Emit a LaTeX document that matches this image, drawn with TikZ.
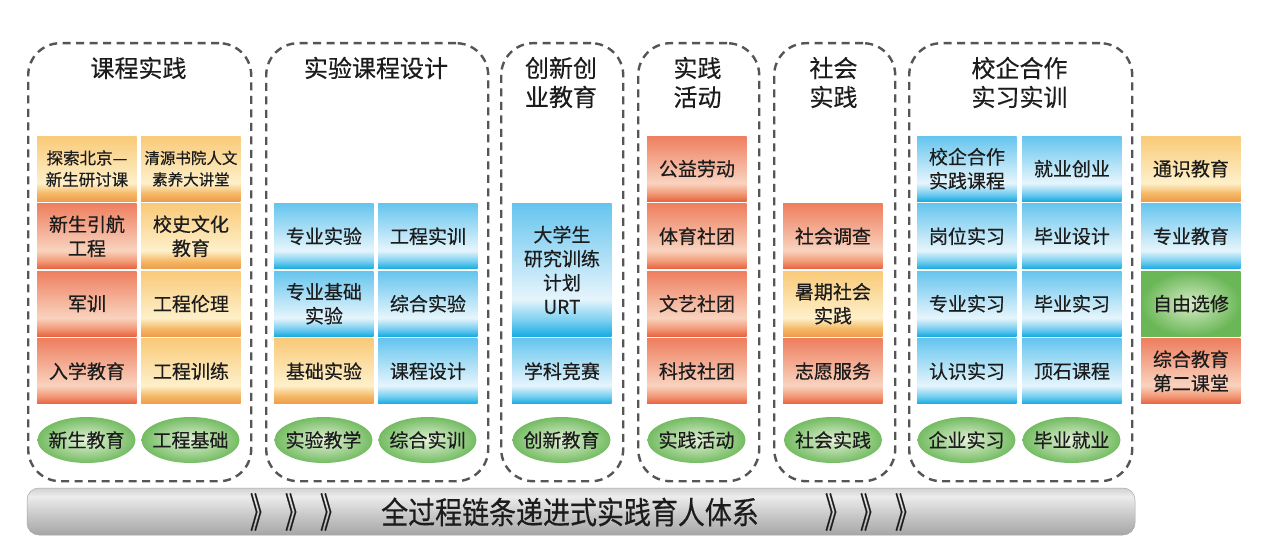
\documentclass[tikz,border=0pt]{standalone}
\usepackage{fontspec}
\setmainfont[FakeBold=0.45]{Noto Sans CJK SC}
\usetikzlibrary{shapes.geometric}
\definecolor{txt}{HTML}{1C1C1C}
\definecolor{framegray}{HTML}{555555}
\definecolor{otop}{HTML}{F9CA79}
\definecolor{olight}{HTML}{FEF0CA}
\definecolor{omid}{HTML}{F5B966}
\definecolor{obot}{HTML}{EE9C4C}
\definecolor{rtop}{HTML}{EE7F5F}
\definecolor{rlight}{HTML}{F9D3BF}
\definecolor{rmid}{HTML}{F29A78}
\definecolor{rbot}{HTML}{E8633F}
\definecolor{btop}{HTML}{66C5EE}
\definecolor{blight}{HTML}{E6F5FC}
\definecolor{bmid}{HTML}{7ACFF0}
\definecolor{bbot}{HTML}{17ACE2}
\definecolor{ginner}{HTML}{E4F1D9}
\definecolor{gouter}{HTML}{74BC62}
\definecolor{gbinner}{HTML}{D6EBC6}
\definecolor{gbouter}{HTML}{6AB757}
\definecolor{bartop}{HTML}{D2D2D2}
\definecolor{barhi}{HTML}{ECECEC}
\definecolor{barmid}{HTML}{C6C6C6}
\definecolor{barbot}{HTML}{A6A6A6}
\pgfdeclareverticalshading{oshade}{100bp}{color(0bp)=(obot); color(25bp)=(obot); color(31bp)=(omid); color(39bp)=(olight); color(75bp)=(otop); color(100bp)=(otop)}
\pgfdeclareverticalshading{rshade}{100bp}{color(0bp)=(rbot); color(25bp)=(rbot); color(31bp)=(rmid); color(39bp)=(rlight); color(75bp)=(rtop); color(100bp)=(rtop)}
\pgfdeclareverticalshading{bshade}{100bp}{color(0bp)=(bbot); color(25bp)=(bbot); color(31bp)=(bmid); color(39bp)=(blight); color(75bp)=(btop); color(100bp)=(btop)}
\pgfdeclareverticalshading{barshade}{100bp}{color(0bp)=(barbot); color(25bp)=(barbot); color(45bp)=(barmid); color(66bp)=(barhi); color(75bp)=(bartop); color(100bp)=(bartop)}
\begin{document}
\begin{tikzpicture}[x=1pt,y=-1pt,
  frame/.style={draw=framegray, line width=2.4pt, dash pattern=on 8pt off 5.5pt, rounded corners=32pt, anchor=north west, inner sep=0pt},
  cell/.style={anchor=north west, minimum width=99.5pt, minimum height=65pt, inner sep=1pt, align=center, text=txt, font=\fontsize{19}{24}\selectfont},
  ocell/.style={cell, shade, shading=oshade},
  rcell/.style={cell, shade, shading=rshade},
  bcell/.style={cell, shade, shading=bshade},
  gcell/.style={cell, shade, shading=radial, inner color=gbinner, outer color=gbouter},
  oval/.style={ellipse, minimum width=98pt, minimum height=46pt, inner xsep=-4pt, inner ysep=0pt, shade, shading=radial, inner color=ginner, outer color=gouter, text=txt, font=\fontsize{19}{24}\selectfont},
  title/.style={align=center, text=txt, font=\fontsize{24}{29}\selectfont},
  chev/.style={text=txt, font=\fontsize{27}{27}\selectfont, inner sep=0pt},
  bartext/.style={text=txt, font=\fontsize{31}{32}\selectfont, inner sep=0pt}
]
\useasboundingbox[fill=white] (0,0) rectangle (1266,551);

% frames
\node[frame, minimum width=223pt, minimum height=438pt] (f1) at (27,42) {};
\node[frame, minimum width=222pt, minimum height=438pt] (f2) at (265,42) {};
\node[frame, minimum width=122pt, minimum height=438pt] (f3) at (500,42) {};
\node[frame, minimum width=121pt, minimum height=438pt] (f4) at (637,42) {};
\node[frame, minimum width=121pt, minimum height=438pt] (f5) at (773,42) {};
\node[frame, minimum width=223pt, minimum height=438pt] (f6) at (908,42) {};

% titles
\node[title] (t1) at (138.5,68) {课程实践};
\node[title] (t2) at (376,68) {实验课程设计};
\node[title] (t3) at (561,82.5) {创新创\\业教育};
\node[title] (t4) at (697.5,82.5) {实践\\活动};
\node[title] (t5) at (833.5,82.5) {社会\\实践};
\node[title] (t6) at (1019.5,82.5) {校企合作\\实习实训};

% column 1
\node[ocell, font=\fontsize{16.5}{21.5}\selectfont] (a1) at (37,136) {探索北京—\\新生研讨课};
\node[rcell] (a2) at (37,203.5) {新生引航\\工程};
\node[rcell] (a3) at (37,271) {军训};
\node[rcell] (a4) at (37,338.5) {入学教育};
\node[ocell, font=\fontsize{15.5}{21.5}\selectfont] (b1) at (141,136) {清源书院人文\\素养大讲堂};
\node[ocell] (b2) at (141,203.5) {校史文化\\教育};
\node[ocell] (b3) at (141,271) {工程伦理};
\node[ocell] (b4) at (141,338.5) {工程训练};

% column 2
\node[bcell] (c2) at (274,203.5) {专业实验};
\node[bcell] (c3) at (274,271) {专业基础\\实验};
\node[ocell] (c4) at (274,338.5) {基础实验};
\node[bcell] (d2) at (378,203.5) {工程实训};
\node[bcell] (d3) at (378,271) {综合实验};
\node[bcell] (d4) at (378,338.5) {课程设计};

% column 3
\node[bcell, minimum height=132.5pt] (e2) at (512,203.5) {大学生\\研究训练\\计划\\URT};
\node[bcell] (e4) at (512,338.5) {学科竞赛};

% column 4
\node[rcell] (g1) at (647,136) {公益劳动};
\node[rcell] (g2) at (647,203.5) {体育社团};
\node[rcell] (g3) at (647,271) {文艺社团};
\node[rcell] (g4) at (647,338.5) {科技社团};

% column 5
\node[rcell] (h2) at (783,203.5) {社会调查};
\node[ocell] (h3) at (783,271) {暑期社会\\实践};
\node[rcell] (h4) at (783,338.5) {志愿服务};

% column 6
\node[bcell] (i1) at (917,136) {校企合作\\实践课程};
\node[bcell] (i2) at (917,203.5) {岗位实习};
\node[bcell] (i3) at (917,271) {专业实习};
\node[bcell] (i4) at (917,338.5) {认识实习};
\node[bcell] (j1) at (1022,136) {就业创业};
\node[bcell] (j2) at (1022,203.5) {毕业设计};
\node[bcell] (j3) at (1022,271) {毕业实习};
\node[bcell] (j4) at (1022,338.5) {顶石课程};

% column 7
\node[ocell] (k1) at (1141,136) {通识教育};
\node[bcell] (k2) at (1141,203.5) {专业教育};
\node[gcell] (k3) at (1141,271) {自由选修};
\node[rcell] (k4) at (1141,338.5) {综合教育\\第二课堂};

% ovals
\node[oval] (o1) at (86.5,440) {新生教育};
\node[oval] (o2) at (190.5,440) {工程基础};
\node[oval] (o3) at (323.5,440) {实验教学};
\node[oval] (o4) at (427.5,440) {综合实训};
\node[oval] (o5) at (561.5,440) {创新教育};
\node[oval] (o6) at (696.5,440) {实践活动};
\node[oval] (o7) at (833,440) {社会实践};
\node[oval] (o8) at (966.5,440) {企业实习};
\node[oval] (o9) at (1071.5,440) {毕业就业};

% bottom bar
\node[shade, shading=barshade, rounded corners=12pt, minimum width=1108pt, minimum height=47pt, inner sep=0pt, draw=barbot, line width=0.5pt] (bar) at (581,511.5) {};
\node[bartext] (bt) at (570,512) {\scalebox{0.87}[1]{全过程链条递进式实践育人体系}};
\node[chev] (ch1) at (262,512) {\scalebox{0.9}[1.5]{》}};
\node[chev] (ch2) at (297,512) {\scalebox{0.9}[1.5]{》}};
\node[chev] (ch3) at (332,512) {\scalebox{0.9}[1.5]{》}};
\node[chev] (ch4) at (837,512) {\scalebox{0.9}[1.5]{》}};
\node[chev] (ch5) at (872,512) {\scalebox{0.9}[1.5]{》}};
\node[chev] (ch6) at (907,512) {\scalebox{0.9}[1.5]{》}};
\end{tikzpicture}
\end{document}
